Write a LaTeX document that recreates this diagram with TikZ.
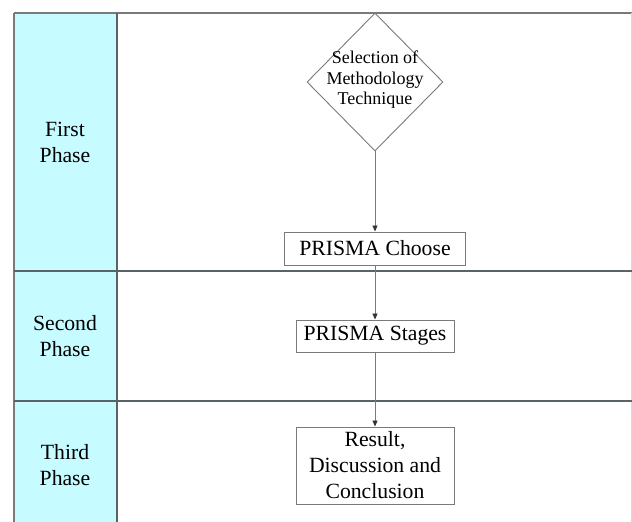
\documentclass[tikz,border=0pt]{standalone}
\usepackage{fontspec}
\setmainfont{Liberation Serif}
\usetikzlibrary{shapes.geometric,arrows.meta}
\definecolor{lanecyan}{HTML}{C6FBFF}
\definecolor{laneline}{HTML}{5A6468}
\definecolor{boxline}{HTML}{7A7A7A}
\tikzset{
  procbox/.style={draw=boxline, line width=1pt, fill=white, inner sep=0pt, align=center,
    font=\fontsize{21.7}{26}\selectfont},
  lanelabel/.style={inner sep=0pt, align=center, font=\fontsize{21.7}{26}\selectfont},
  dtext/.style={inner sep=0pt, align=center, font=\fontsize{18}{20.5}\selectfont},
  flow/.style={draw=boxline, line width=0.9pt, -{Triangle[length=6pt,width=5pt,color=black!80]}},
  lanerule/.style={draw=laneline, line width=1.2pt}
}
\begin{document}
\begin{tikzpicture}[x=1pt,y=-1pt]
\useasboundingbox (0,0) rectangle (632,522);
\fill[white] (0,0) rectangle (632,522);
% lane column
\fill[lanecyan] (14,13) rectangle (117,522);
% frame and lane rules
\coordinate (tl) at (14,13);
\coordinate (tr) at (632,13);
\coordinate (bl) at (14,522);
\coordinate (dt) at (117,13);
\coordinate (db) at (117,522);
\coordinate (h1l) at (14,271);
\coordinate (h1r) at (632,271);
\coordinate (h2l) at (14,401);
\coordinate (h2r) at (632,401);
\coordinate (rt) at (631,13);
\coordinate (rb) at (631,522);
\draw[draw=boxline, line width=1.3pt] (tl) -- (tr);
\draw[draw=boxline, line width=1.3pt] (tl) -- (bl);
\draw[draw=gray!30, line width=0.6pt] (rt) -- (rb);
\draw[lanerule] (dt) -- (db);
\draw[lanerule] (h1l) -- (h1r);
\draw[lanerule] (h2l) -- (h2r);
% lane labels
\node[lanelabel] (l1) at (65,142) {First\\Phase};
\node[lanelabel] (l2) at (65,336) {Second\\Phase};
\node[lanelabel] (l3) at (65,465) {Third\\Phase};
% diamond
\node[diamond, draw=boxline, line width=0.9pt, fill=white, inner sep=0pt,
  minimum width=136pt, minimum height=138pt] (sel) at (375,82) {};
\node[dtext] (selt) at (375,80) {Selection of\\Methodology\\Technique};
% boxes
\node[procbox, minimum width=181pt, minimum height=33pt] (choose) at (375,248.5) {PRISMA Choose};
\node[procbox, minimum width=158pt, minimum height=32pt] (stages) at (375,336) {PRISMA Stages};
\node[procbox, minimum width=158pt, minimum height=77pt] (result) at (375,465.5) {Result,\\Discussion and\\Conclusion};
% connectors
\draw[flow] (sel.south) -- (choose.north);
\draw[flow] (choose.south) -- (stages.north);
\draw[flow] (stages.south) -- (result.north);
\end{tikzpicture}
\end{document}
